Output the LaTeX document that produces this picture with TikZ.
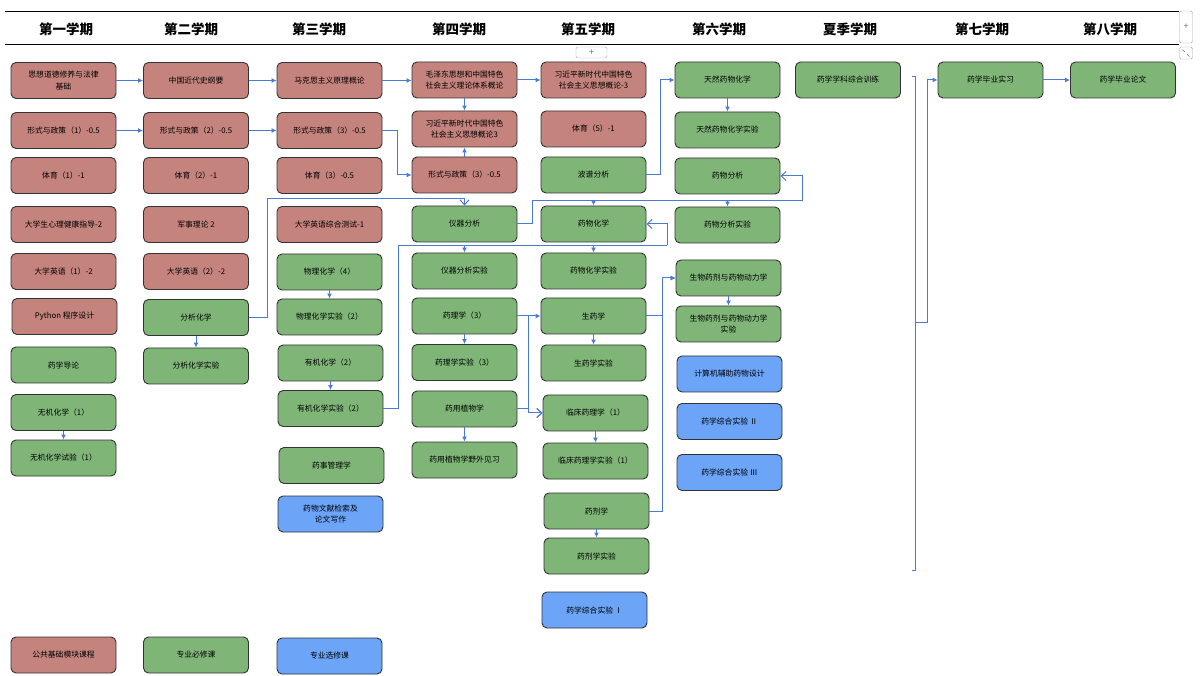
\documentclass[tikz,border=0pt]{standalone}
\usepackage{fontspec}
\setmainfont{Noto Sans CJK SC}
\usetikzlibrary{arrows.meta}
\definecolor{pubred}{RGB}{197,131,125}
\definecolor{reqgreen}{RGB}{127,182,120}
\definecolor{eleblue}{RGB}{108,164,248}
\definecolor{linkblue}{RGB}{74,122,210}
\begin{document}
\begin{tikzpicture}[
    x=1pt, y=-1pt,
    box/.style={draw=black!80, line width=0.9pt, rounded corners=5pt,
                minimum width=105pt, minimum height=36pt, inner sep=2pt,
                align=center, font=\fontsize{7.8}{11.5}\selectfont},
    pub/.style={box, fill=pubred},
    req/.style={box, fill=reqgreen},
    ele/.style={box, fill=eleblue},
    head/.style={font=\bfseries\fontsize{13.5}{16}\selectfont, inner sep=0pt},
    rule/.style={draw=black, line width=1pt},
    wire/.style={draw=linkblue, line width=1pt},
    link/.style={wire, -{Latex[length=5pt,width=5pt]}},
    openlink/.style={wire, -{Straight Barb[length=5pt,width=9pt]}},
    uibtn/.style={draw=black!35, rounded corners=1.5pt, inner sep=0pt,
                  font=\fontsize{9}{9}\selectfont, text=black!55},
  ]
  \useasboundingbox (0,0) rectangle (1203,676);
  \draw[rule] (5,12) -- (1179,12);
  \draw[rule] (5,45) -- (1179,45);
  \foreach \i/\x/\t in {1/66/第一学期, 2/191/第二学期, 3/319/第三学期, 4/459/第四学期,
                        5/588/第五学期, 6/719/第六学期, 7/850/夏季学期, 8/982/第七学期,
                        9/1110/第八学期} {
    \node[head] (h\i) at (\x,29) {\t};
  }
  \node[uibtn, minimum width=31pt, minimum height=11pt] (addrow) at (591.5,52.5) {+};
  \node[uibtn, minimum width=13pt, minimum height=32pt] (addcol) at (1186,27) {+};
  \node[uibtn, minimum width=13pt, minimum height=12pt] (grip) at (1186,53) {};
  \draw[black!55, line width=0.4pt] ([shift={(-3.5pt,3.5pt)}]grip.center) -- ++(2.5pt,-2.5pt);
  \draw[black!55, line width=0.4pt] ([shift={(3.5pt,-3.5pt)}]grip.center) -- ++(-2.5pt,2.5pt);

  \node[pub] (sxdd)   at (63.5,80.5)  {思想道德修养与法律\\基础};
  \node[pub] (xszc1)  at (63.5,130.5) {形式与政策（1）-0.5};
  \node[pub] (ty1)    at (63.5,175.5) {体育（1）-1};
  \node[pub] (xljk)   at (63.5,224.5) {大学生心理健康指导-2};
  \node[pub] (yy1)    at (63.5,271.5) {大学英语（1）-2};
  \node[pub] (python) at (64.5,316.5) {Python 程序设计};
  \node[req] (yxdl)   at (63.5,365)   {药学导论};
  \node[req] (wjhx)   at (63.5,412.5) {无机化学（1）};
  \node[req] (wjsy)   at (63.5,458)   {无机化学试验（1）};
  \node[pub] (lgpub)  at (63.5,655)   {公共基础模块课程};

  \node[pub] (zgjds)  at (196,80.5)   {中国近代史纲要};
  \node[pub] (xszc2)  at (196,130.5)  {形式与政策（2）-0.5};
  \node[pub] (ty2)    at (196,175.5)  {体育（2）-1};
  \node[pub] (jsll)   at (196,224.5)  {军事理论 2};
  \node[pub] (yy2)    at (196,271.5)  {大学英语（2）-2};
  \node[req] (fxhx)   at (196,317.5)  {分析化学};
  \node[req] (fxsy)   at (196,366)    {分析化学实验};
  \node[req] (lgreq)  at (196,655)    {专业必修课};

  \node[pub] (mks)    at (329.5,80.5)  {马克思主义原理概论};
  \node[pub] (xszc3)  at (329.5,130.5) {形式与政策（3）-0.5};
  \node[pub] (ty3)    at (329.5,175.5) {体育（3）-0.5};
  \node[pub] (yyzh)   at (329.5,224.5) {大学英语综合测试-1};
  \node[req] (wlhx)   at (329.5,272)   {物理化学（4）};
  \node[req] (wlsy)   at (329.5,317)   {物理化学实验（2）};
  \node[req] (yjhx)   at (330.5,363)   {有机化学（2）};
  \node[req] (yjsy)   at (330.5,408.5) {有机化学实验（2）};
  \node[req] (yshgl)  at (331.5,465.5) {药事管理学};
  \node[ele] (wxjs)   at (330.5,514)   {药物文献检索及\\论文写作};
  \node[ele] (lgele)  at (329.5,656)   {专业选修课};

  \node[pub] (mzd)    at (464.5,80)  {毛泽东思想和中国特色\\社会主义理论体系概论};
  \node[pub] (xjp4)   at (464.5,129) {习近平新时代中国特色\\社会主义思想概论3};
  \node[pub] (xszc3b) at (464.5,175) {形式与政策（3）-0.5};
  \node[req] (yqfx)   at (464.5,224) {仪器分析};
  \node[req] (yqsy)   at (464.5,271) {仪器分析实验};
  \node[req] (yl)     at (464.5,316) {药理学（3）};
  \node[req] (ylsy)   at (464.5,362.5) {药理学实验（3）};
  \node[req] (yyzw)   at (464.5,409) {药用植物学};
  \node[req] (yyzwjx) at (464.5,460) {药用植物学野外见习};

  \node[pub] (xjp5)   at (593.5,80)  {习近平新时代中国特色\\社会主义思想概论-3};
  \node[pub] (ty5)    at (593.5,129) {体育（5）-1};
  \node[req] (bpfx)   at (593.5,175) {波谱分析};
  \node[req] (ywhx)   at (593.5,224) {药物化学};
  \node[req] (ywhxsy) at (593.5,271) {药物化学实验};
  \node[req] (syx)    at (593.5,316) {生药学};
  \node[req] (syxsy)  at (593.5,363) {生药学实验};
  \node[req] (lcyl)   at (595.5,413) {临床药理学（1）};
  \node[req] (lcylsy) at (595.5,461) {临床药理学实验（1）};
  \node[req] (yjx)    at (596.5,511) {药剂学};
  \node[req] (yjxsy)  at (596.5,556) {药剂学实验};
  \node[ele] (zhsy1)  at (594.5,610) {药学综合实验 Ⅰ};

  \node[req] (trhx)   at (727.5,80)  {天然药物化学};
  \node[req] (trhxsy) at (727.5,130) {天然药物化学实验};
  \node[req] (ywfx)   at (727.5,176) {药物分析};
  \node[req] (ywfxsy) at (727.5,225) {药物分析实验};
  \node[req] (swyj)   at (728.5,278) {生物药剂与药物动力学};
  \node[req] (swyjsy) at (728.5,324) {生物药剂与药物动力学\\实验};
  \node[ele] (jsjfz)  at (729.5,374) {计算机辅助药物设计};
  \node[ele] (zhsy2)  at (729.5,421.5) {药学综合实验 Ⅱ};
  \node[ele] (zhsy3)  at (729.5,472.5) {药学综合实验 Ⅲ};

  \node[req] (zhxl)   at (848,80)    {药学学科综合训练};
  \node[req] (bysx)   at (990.5,80)  {药学毕业实习};
  \node[req] (bylw)   at (1123,80)   {药学毕业论文};

  \draw[link] (sxdd) -- (zgjds);
  \draw[link] (zgjds) -- (mks);
  \draw[link] (mks) -- (mzd.west |- mks);
  \draw[link] (mzd) -- (xjp5);
  \draw[link] (xszc1) -- (xszc2);
  \draw[link] (xszc2) -- (xszc3);
  \draw[link] (xszc3.east) -- ++(15,0) |- (xszc3b.west);
  \draw[link] (mzd) -- (xjp4);
  \draw[link] (xszc3b) -- (xjp4);
  \draw[link] (wjhx) -- (wjsy);
  \draw[link] (fxhx) -- (fxsy);
  \draw[link] (wlhx) -- (wlsy);
  \draw[link] (yjhx) -- (yjsy);
  \draw[openlink] (fxhx.east) -- ++(19,0) |- ([yshift=7pt]yqfx.north) -- (yqfx.north);

  \coordinate (busa) at (802,201);
  \draw[wire] (yqfx.east) -- ++(15,0) |- (busa);
  \draw[link] (ywhx.north |- busa) -- (ywhx.north);
  \draw[link] (ywfxsy.north |- busa) -- (ywfxsy.north);
  \draw[openlink] (busa) |- (ywfx.east);

  \coordinate (busb) at (667,245.5);
  \draw[wire] (yjsy.east) -- ++(15,0) |- (busb);
  \draw[link] (yqsy.north |- busb) -- (yqsy.north);
  \draw[link] (ywhxsy.north |- busb) -- (ywhxsy.north);
  \draw[openlink] (busb) |- (ywhx.east);

  \draw[link] (bpfx.east) -- ++(14,0) |- (trhx.west);
  \draw[link] (trhx) -- (trhxsy);
  \draw[link] (yl) -- (syx);
  \draw[openlink] (yl.east) -- ++(11,0) |- (lcyl.west);
  \draw[openlink] (yyzw.east) -- ++(11,0) |- (lcyl.west);
  \draw[link] (yl) -- (ylsy);
  \draw[link] (yyzw) -- (yyzwjx);
  \draw[link] (syx) -- (syxsy);
  \draw[link] (syx.east) -- ++(16,0) |- (swyj.west);
  \draw[link] (yjx.east) -- ++(13,0) |- (swyj.west);
  \draw[link] (swyj) -- (swyjsy);
  \draw[link] (lcyl) -- (lcylsy);
  \draw[link] (yjx) -- (yjxsy);

  \coordinate (brtop) at (915,77);
  \coordinate (brbot) at (915,570);
  \coordinate (brmid) at (915,323);
  \draw[wire] ([xshift=-3pt]brtop) -- (brtop) -- (brbot) -- ([xshift=-3pt]brbot);
  \draw[link] (brmid) -- ++(12,0) |- (bysx.west);
  \draw[link] (bysx) -- (bylw);
\end{tikzpicture}
\end{document}
